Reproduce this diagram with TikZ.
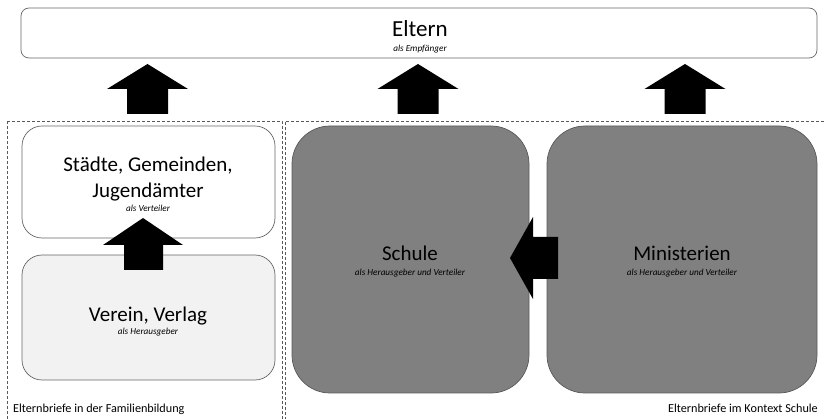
\documentclass[tikz,border=0pt]{standalone}
\usepackage{fontspec}
\setmainfont{Carlito}
\begin{document}
\begin{tikzpicture}[x=1pt,y=-1pt,
  ebox/.style={draw=black!60,line width=0.7pt,fill=white,rounded corners=8pt},
  lbox/.style={draw=black!60,line width=0.7pt,rounded corners=20pt},
  dbox/.style={draw=black!65,line width=0.7pt,fill=black!50,rounded corners=38pt},
  frame/.style={draw=black!65,line width=0.6pt,dash pattern=on 3pt off 2pt},
  blk/.style={fill=black},
  big/.style={font=\fontsize{21}{25}\selectfont,anchor=base},
  sub/.style={font=\fontsize{9.2}{11}\selectfont\itshape,anchor=base},
  lab/.style={font=\fontsize{12.2}{14}\selectfont,anchor=base}]
\useasboundingbox (0,0) rectangle (825,419);
% frames
\draw[frame] (7,121) -- (282,121) -- (282,425) (7,121) -- (7,425);
\draw[frame] (285,425) -- (285,121) -- (830,121);
% Eltern
\node[ebox,minimum width=796pt,minimum height=50pt,inner sep=0pt] (eltern) at (419,33) {};
\node[font=\fontsize{23}{27}\selectfont,anchor=base] (elternT) at (420,37) {Eltern};
\node[sub] (elternS) at (420,52) {als Empfänger};
% up arrows
\foreach \cx/\nm in {147.5/a1,418/a2,685/a3}{
  \fill[blk] (\cx,64) -- (\cx+40.5,89) -- (\cx+20.5,89) -- (\cx+20.5,114) -- (\cx-20.5,114) -- (\cx-20.5,89) -- (\cx-40.5,89) -- cycle;
  \coordinate (\nm) at (\cx,89);
}
% left boxes
\node[lbox,fill=white,minimum width=253pt,minimum height=112pt,inner sep=0pt] (staedte) at (148.5,182) {};
\node[lbox,fill=black!5,minimum width=253pt,minimum height=125pt,inner sep=0pt] (verein) at (148.5,317.5) {};
\fill[blk] (143,218) -- (183,245) -- (163,245) -- (163,270) -- (124,270) -- (124,245) -- (103,245) -- cycle;
\node[big] (st1) at (148,172) {Städte, Gemeinden,};
\node[big] (st2) at (148,198) {Jugendämter};
\node[sub] (st3) at (148,212) {als Verteiler};
\node[big] (ve1) at (148,322) {Verein, Verlag};
\node[sub] (ve2) at (148,335) {als Herausgeber};
% right boxes
\node[dbox,minimum width=237pt,minimum height=267pt,inner sep=0pt] (schule) at (410.5,259.5) {};
\node[dbox,minimum width=270pt,minimum height=267pt,inner sep=0pt] (minist) at (682,259.5) {};
\fill[blk] (510,258) -- (533,217) -- (533,237) -- (558,237) -- (558,279) -- (533,279) -- (533,299) -- cycle;
\node[big] (scT) at (410,261) {Schule};
\node[sub] (scS) at (410,276) {als Herausgeber und Verteiler};
\node[big] (miT) at (682,261) {Ministerien};
\node[sub] (miS) at (682,276) {als Herausgeber und Verteiler};
% labels
\node[lab,anchor=base west,inner sep=0pt] (l1) at (13,413) {Elternbriefe in der Familienbildung};
\node[lab,anchor=base east,inner sep=0pt] (l2) at (818,413) {Elternbriefe im Kontext Schule};
\end{tikzpicture}
\end{document}
